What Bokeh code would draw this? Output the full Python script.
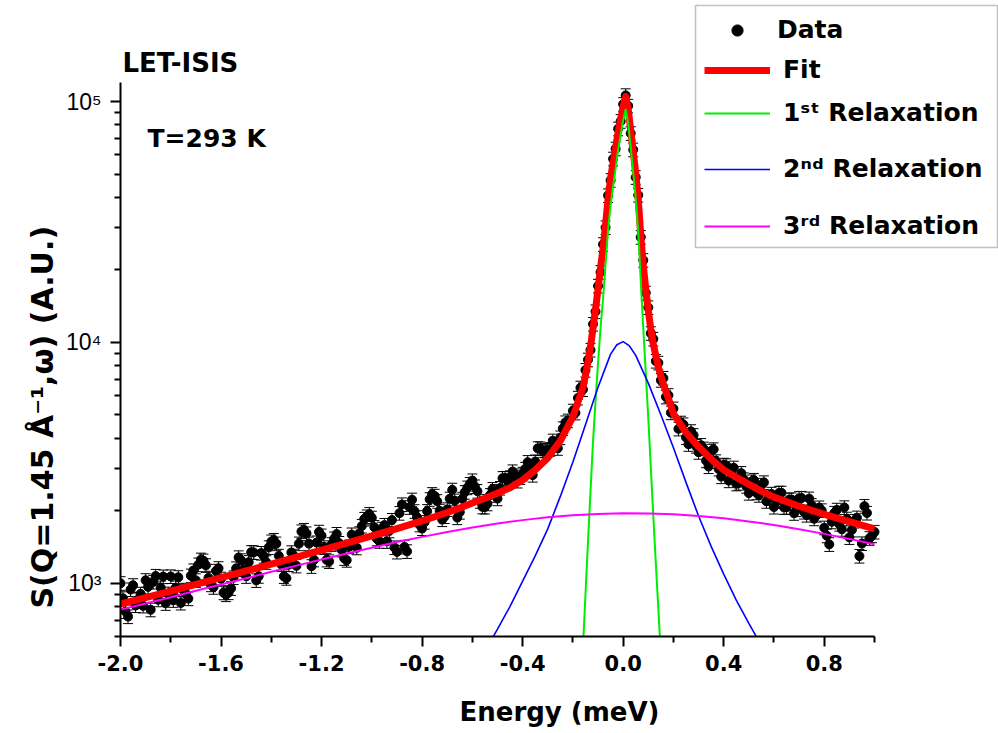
import numpy as np
from bokeh.plotting import figure
from bokeh.models import (ColumnDataSource, Whisker, TeeHead, FixedTicker, Label, Title,
                          Legend, LegendItem, BoxAnnotation, Range1d, CustomJSTickFormatter)
from bokeh.embed import file_html
from bokeh.resources import INLINE

# ---------------- data ----------------
DATA_X_LEFT = [-2.00, -1.98, -1.96, -1.94, -1.92, -1.90, -1.88, -1.86, -1.84, -1.82,
               -1.80, -1.78, -1.76, -1.74, -1.72, -1.70, -1.68, -1.66, -1.64, -1.62,
               -1.60, -1.58, -1.56, -1.54, -1.52, -1.50, -1.48, -1.46, -1.44, -1.42,
               -1.40, -1.38, -1.36, -1.34, -1.32, -1.30, -1.28, -1.26, -1.24, -1.22,
               -1.20, -1.18, -1.16, -1.14, -1.12, -1.10, -1.08, -1.06, -1.04, -1.02,
               -1.00, -0.98, -0.96, -0.94, -0.92, -0.90, -0.88, -0.86, -0.84, -0.82,
               -0.80, -0.78, -0.76, -0.74, -0.72, -0.70, -0.68, -0.66, -0.64, -0.62,
               -0.60, -0.58, -0.56, -0.54, -0.52, -0.50, -0.48, -0.46, -0.44, -0.42,
               -0.40, -0.38, -0.36, -0.34, -0.32, -0.30, -0.28, -0.26, -0.24, -0.22]
DATA_Y_LEFT = [998, 762, 940, 807, 902, 1027, 775, 1070, 957, 824,
               1065, 957, 827, 904, 1073, 1026, 1250, 1185, 985, 1123,
               1042, 896, 951, 1150, 1242, 1067, 1343, 1026, 1332, 1220,
               1487, 1458, 1195, 1048, 1341, 1179, 1637, 1606, 1174, 1473,
               1574, 1249, 1449, 1598, 1374, 1245, 1590, 1402, 1726, 1889,
               1867, 1528, 1680, 1491, 1827, 1347, 2120, 1354, 2219, 1876,
               1686, 1989, 2339, 2187, 1836, 2023, 2439, 1871, 2238, 2491,
               2666, 2409, 2074, 2136, 2455, 2242, 2726, 2661, 2907, 2656,
               2841, 3178, 2809, 3626, 3546, 3575, 3901, 3631, 4387, 4725]
DATA_X_LEFT2 = [-1.99, -1.97, -1.95, -1.93, -1.91, -1.89, -1.87, -1.85, -1.83, -1.81,
                -1.79, -1.77, -1.75, -1.73, -1.71, -1.69, -1.67, -1.65, -1.63, -1.61,
                -1.59, -1.57, -1.55, -1.53, -1.51, -1.49, -1.47, -1.45, -1.43, -1.41,
                -1.39, -1.37, -1.35, -1.33, -1.31, -1.29, -1.27, -1.25, -1.23, -1.21,
                -1.19, -1.17, -1.15, -1.13, -1.11, -1.09, -1.07, -1.05, -1.03, -1.01,
                -0.99, -0.97, -0.95, -0.93, -0.91, -0.89, -0.87, -0.85, -0.83, -0.81,
                -0.79, -0.77, -0.75, -0.73, -0.71, -0.69, -0.67, -0.65, -0.63, -0.61,
                -0.59, -0.57, -0.55, -0.53, -0.51, -0.49, -0.47, -0.45, -0.43, -0.41,
                -0.39, -0.37, -0.35, -0.33, -0.31, -0.29, -0.27, -0.25, -0.23]
DATA_Y_LEFT2 = [864, 726, 979, 854, 804, 964, 1011, 853, 1064, 903,
                848, 1057, 937, 862, 1128, 1193, 1239, 1051, 961, 1152,
                912, 913, 1055, 1278, 1138, 1221, 1341, 1068, 1294, 1407,
                1509, 1297, 1066, 1194, 1298, 1458, 1661, 1458, 1249, 1632,
                1407, 1230, 1530, 1466, 1267, 1417, 1512, 1608, 1846, 1933,
                1707, 1492, 1741, 1650, 1405, 1952, 1413, 2064, 1987, 1746,
                1791, 2228, 2302, 1995, 1891, 2240, 2199, 1971, 2385, 2579,
                2517, 2188, 2071, 2317, 2408, 2481, 2731, 2746, 2797, 2748,
                2980, 3013, 3196, 3620, 3562, 3599, 3774, 4020, 4644]
DATA_X_MID = [-0.20, -0.19, -0.18, -0.17, -0.16, -0.15, -0.14, -0.13, -0.12, -0.11,
              -0.10, -0.09, -0.08, -0.07, -0.06, -0.05, -0.04, -0.03, -0.02, -0.01,
              0.00, 0.01, 0.02, 0.03, 0.04, 0.05, 0.06, 0.07, 0.08, 0.09,
              0.10, 0.11, 0.12, 0.13, 0.14, 0.15, 0.16, 0.17, 0.18, 0.19,
              0.20]
DATA_Y_MID = [5194, 5093, 5876, 6474, 6370, 7665, 8462, 9294, 11906, 13419,
              17147, 19562, 25520, 29986, 40725, 47114, 57841, 63663, 77113, 82847,
              97429, 106050, 95943, 73785, 63084, 48457, 40894, 27331, 21924, 16045,
              13952, 10901, 10325, 8358, 8216, 6960, 7102, 5938, 6026, 5104,
              5303]
DATA_X_RIGHT = [0.22, 0.24, 0.26, 0.28, 0.30, 0.32, 0.34, 0.36, 0.38, 0.40,
                0.42, 0.44, 0.46, 0.48, 0.50, 0.52, 0.54, 0.56, 0.58, 0.60,
                0.62, 0.64, 0.66, 0.68, 0.70, 0.72, 0.74, 0.76, 0.78, 0.80,
                0.82, 0.84, 0.86, 0.88, 0.90, 0.92, 0.94, 0.96, 0.98, 1.00]
DATA_Y_RIGHT = [4371, 4555, 3772, 4113, 3496, 3615, 3049, 3590, 2978, 3098,
                2664, 3013, 2602, 2693, 2364, 2680, 2318, 2618, 2255, 2070,
                2369, 2063, 2220, 1950, 2252, 1973, 2242, 1851, 2058, 1698,
                1448, 1955, 1758, 2062, 1548, 1811, 1295, 2087, 1535, 1630]
DATA_X_RIGHT2 = [0.23, 0.25, 0.27, 0.29, 0.31, 0.33, 0.35, 0.37, 0.39, 0.41,
                 0.43, 0.45, 0.47, 0.49, 0.51, 0.53, 0.55, 0.57, 0.59, 0.61,
                 0.63, 0.65, 0.67, 0.69, 0.71, 0.73, 0.75, 0.77, 0.79, 0.81,
                 0.83, 0.85, 0.87, 0.89, 0.91, 0.93, 0.95, 0.97, 0.99]
DATA_Y_RIGHT2 = [4631, 4028, 4269, 3704, 3739, 3224, 3540, 3201, 2769, 3082,
                 2856, 2585, 2862, 2527, 2640, 2374, 2555, 2188, 2346, 2187,
                 2370, 2066, 2224, 2019, 2256, 1916, 2105, 1916, 2003, 1573,
                 1798, 2014, 1673, 1849, 1663, 1869, 1460, 1955, 1574]
REL_ERR = 0.065   # relative error-bar half height read from the caps

FIT_X = [-2.0, -1.9, -1.8, -1.7, -1.6, -1.5, -1.4, -1.3, -1.2, -1.1, -1.0, -0.9, -0.8,
         -0.75, -0.7, -0.65, -0.6, -0.55, -0.5, -0.45, -0.4, -0.35, -0.3, -0.25,
         -0.20, -0.19, -0.18, -0.17, -0.16, -0.15, -0.14, -0.13, -0.12, -0.11,
         -0.10, -0.09, -0.08, -0.07, -0.06, -0.05, -0.04, -0.03, -0.02, -0.01,
         0.00, 0.01, 0.02, 0.03, 0.04, 0.05, 0.06, 0.07, 0.08, 0.09,
         0.10, 0.11, 0.12, 0.13, 0.14, 0.15, 0.16, 0.17, 0.18, 0.19, 0.20,
         0.25, 0.3, 0.35, 0.4, 0.45, 0.5, 0.55, 0.6, 0.7, 0.8, 0.9, 1.0]
FIT_Y = [818, 870, 926, 987, 1053, 1123, 1199, 1281, 1369, 1465, 1569, 1684, 1813,
         1886, 1964, 2052, 2150, 2250, 2360, 2490, 2680, 2950, 3310, 3900,
         4900, 5250, 5650, 6050, 6500, 7300, 8300, 9580, 11450, 13690,
         16650, 20380, 24540, 30910, 39540, 48080, 55620, 64310, 74870, 84540,
         95520, 105000, 93150, 76070, 61850, 50480, 39320, 27890, 20880, 16540,
         13550, 11360, 9830, 8800, 7900, 7250, 6700, 6250, 5850, 5430, 5050,
         4220, 3680, 3275, 2950, 2750, 2570, 2410, 2275, 2085, 1930, 1800, 1680]

R1_X = [-0.16, -0.15, -0.14, -0.13, -0.12, -0.11, -0.10, -0.09, -0.08, -0.07, -0.06,
        -0.05, -0.04, -0.03, -0.02, -0.01, 0.00, 0.01, 0.02, 0.03, 0.04, 0.05,
        0.06, 0.07, 0.08, 0.09, 0.10, 0.11, 0.12, 0.13, 0.14, 0.15]
R1_Y = [542, 896, 1479, 2399, 3864, 5690, 8200, 11500, 15200, 21100, 29200,
        37200, 44400, 52800, 63100, 72600, 83500, 93000, 81300, 64600, 50700, 39700,
        29000, 18000, 11400, 7450, 4830, 3040, 1890, 1205, 780, 504]

R2_X = [-0.55, -0.5, -0.45, -0.4, -0.35, -0.3, -0.25, -0.2, -0.15, -0.1, -0.05, -0.025,
        0.0, 0.025, 0.05, 0.1, 0.15, 0.2, 0.25, 0.3, 0.35, 0.4, 0.45, 0.5, 0.55]
R2_Y = [521, 644, 801, 1019, 1297, 1679, 2291, 3184, 4550, 6510, 8930, 9770,
        10070, 9660, 8830, 6770, 5000, 3650, 2620, 1900, 1420, 1090, 850, 680, 550]

R3_X = [-2.0, -1.9, -1.8, -1.7, -1.6, -1.5, -1.4, -1.3, -1.2, -1.1, -1.0, -0.9, -0.8,
        -0.7, -0.6, -0.5, -0.4, -0.3, -0.2, -0.1, 0.0, 0.1, 0.2, 0.3, 0.4, 0.5,
        0.6, 0.7, 0.8, 0.9, 1.0]
R3_Y = [776, 823, 874, 929, 987, 1048, 1114, 1182, 1253, 1327, 1403, 1480, 1556,
        1631, 1702, 1768, 1826, 1875, 1913, 1938, 1949, 1946, 1930, 1899, 1857, 1804,
        1742, 1674, 1601, 1526, 1449]

X_BOUNDS = (-2.0, 1.0)
Y_BOUNDS = (600, 1.2e5)
X_TICKS = [-2.0, -1.6, -1.2, -0.8, -0.4, 0.0, 0.4, 0.8]
X_MINOR = [-1.8, -1.4, -1.0, -0.6, -0.2, 0.2, 0.6, 1.0]
Y_TICKS = [1e3, 1e4, 1e5]
Y_MINOR = [600, 700, 800, 900, 2000, 3000, 4000, 5000, 6000, 7000, 8000, 9000,
           20000, 30000, 40000, 50000, 60000, 70000, 80000, 90000]

LEGEND_LABELS = ["Data", "Fit", "1\u02e2\u1d57 Relaxation", "2\u207f\u1d48 Relaxation",
                 "3\u02b3\u1d48 Relaxation"]
X_TITLE = "Energy (meV)"
Y_TITLE = "S(Q=1.45 \u00c5\u207b\u00b9,\u03c9) (A.U.)"
FACILITY = "LET-ISIS"
TEMPERATURE = "T=293 K"

BOLD_FONT = "DejaVu Sans, Liberation Sans, sans-serif"
TICK_FONT = "Liberation Sans, DejaVu Sans, sans-serif"

# ---------------- figure ----------------
# The frame reaches the top and right canvas edges so that the legend and the
# in-plot texts are not clipped; the axes are limited with `bounds`.
W, H = 998, 733
LEFT, BOTTOM = 120, 97
x_px_per_unit = (874 - 120) / (X_BOUNDS[1] - X_BOUNDS[0])
x_end = X_BOUNDS[0] + (W - LEFT) / x_px_per_unit
y_px_per_dec = (636 - 82) / (np.log10(Y_BOUNDS[1]) - np.log10(Y_BOUNDS[0]))
y_end = 10 ** (np.log10(Y_BOUNDS[0]) + (H - BOTTOM) / y_px_per_dec)

p = figure(width=W, height=H, x_range=Range1d(X_BOUNDS[0], x_end),
           y_range=Range1d(Y_BOUNDS[0], y_end),
           y_axis_type="log", output_backend="svg", toolbar_location=None,
           min_border_left=LEFT, min_border_right=0, min_border_top=0,
           min_border_bottom=BOTTOM)
p.outline_line_color = None
p.grid.visible = False
p.background_fill_color = "white"
p.border_fill_color = "white"

for ax in (p.xaxis[0], p.yaxis[0]):
    ax.axis_line_width = 2
    ax.axis_line_color = "black"
    ax.major_tick_line_width = 2
    ax.minor_tick_line_width = 2
    ax.major_tick_line_color = "black"
    ax.minor_tick_line_color = "black"
    ax.major_tick_out = 10
    ax.major_tick_in = 0
    ax.minor_tick_out = 6
    ax.minor_tick_in = 0
    ax.major_label_text_color = "black"
    ax.axis_label_text_font = BOLD_FONT
    ax.axis_label_text_font_style = "bold"
    ax.axis_label_text_color = "black"

p.xaxis.bounds = X_BOUNDS
p.xaxis.ticker = FixedTicker(ticks=X_TICKS, minor_ticks=X_MINOR)
p.xaxis.formatter = CustomJSTickFormatter(code="return tick.toFixed(1);")
p.xaxis.major_label_text_font = BOLD_FONT
p.xaxis.major_label_text_font_size = "21px"
p.xaxis.major_label_text_font_style = "bold"
p.xaxis.major_label_standoff = 8
p.xaxis.axis_label = X_TITLE
p.xaxis.axis_label_text_font_size = "26px"
p.xaxis.axis_label_standoff = 23

p.yaxis.bounds = Y_BOUNDS
p.yaxis.ticker = FixedTicker(ticks=Y_TICKS, minor_ticks=Y_MINOR)
p.yaxis.formatter = CustomJSTickFormatter(code="""
const sup = {3: "\u00b3", 4: "\u2074", 5: "\u2075"};
const e = Math.round(Math.log10(tick));
return "10" + (sup[e] || String(e));
""")
p.yaxis.major_label_text_font = TICK_FONT
p.yaxis.major_label_text_font_size = "23px"
p.yaxis.major_label_text_font_style = "normal"
p.yaxis.major_label_standoff = 9

# y title as a side-panel Title so that it starts at the same height as the reference
p.add_layout(Title(text=Y_TITLE, align="left", offset=28, standoff=7,
                   text_font=BOLD_FONT, text_font_size="30px", text_font_style="bold",
                   text_color="black"), "left")

# ---------------- data ----------------
dx = DATA_X_LEFT + DATA_X_LEFT2 + DATA_X_MID + DATA_X_RIGHT + DATA_X_RIGHT2
dy = DATA_Y_LEFT + DATA_Y_LEFT2 + DATA_Y_MID + DATA_Y_RIGHT + DATA_Y_RIGHT2
dy_arr = np.array(dy, dtype=float)
src = ColumnDataSource(dict(x=dx, y=dy, lo=dy_arr * (1 - REL_ERR), hi=dy_arr * (1 + REL_ERR)))

whisk = Whisker(source=src, base="x", upper="hi", lower="lo", dimension="height",
                line_color="black", line_width=1,
                upper_head=TeeHead(size=10, line_color="black", line_width=1),
                lower_head=TeeHead(size=10, line_color="black", line_width=1))
p.add_layout(whisk)

r_data = p.scatter("x", "y", source=src, marker="circle", size=9,
                   fill_color="black", line_color="black")
r_fit = p.line(FIT_X, FIT_Y, line_color="#ff0000", line_width=7, line_join="round")
r_1 = p.line(R1_X, R1_Y, line_color="#00ee00", line_width=2)
r_2 = p.line(R2_X, R2_Y, line_color="#0000ff", line_width=1.6)
r_3 = p.line(R3_X, R3_Y, line_color="#ff00ff", line_width=2)

# ---------------- legend (one entry per Legend for exact row placement) ----------------
legend_rows = [(LEGEND_LABELS[0], r_data, 592, 7),
               (LEGEND_LABELS[1], r_fit, 552, 13),
               (LEGEND_LABELS[2], r_1, 509, 13),
               (LEGEND_LABELS[3], r_2, 453, 13),
               (LEGEND_LABELS[4], r_3, 396, 13)]
for lab_text, rend, vy, stand in legend_rows:
    lg = Legend(items=[LegendItem(label=lab_text, renderers=[rend])], location=(584, vy),
                border_line_color=None, background_fill_alpha=0, padding=0, margin=0,
                spacing=0, glyph_width=66, glyph_height=28, label_height=28,
                label_standoff=stand, label_text_font=BOLD_FONT, label_text_font_size="25px",
                label_text_font_style="bold", label_text_color="black",
                label_text_baseline="middle")
    p.add_layout(lg)

box = BoxAnnotation(left=695, right=997, top=5, bottom=247,
                    left_units="canvas", right_units="canvas",
                    top_units="canvas", bottom_units="canvas",
                    fill_alpha=0, line_color="#333333", line_width=1.5)
p.add_layout(box)

# ---------------- in-plot texts ----------------
def lab(text, x, y, size):
    p.add_layout(Label(x=x, y=y, x_units="screen", y_units="screen", text=text,
                       text_font=BOLD_FONT, text_font_size=size, text_font_style="bold",
                       text_color="black", text_align="left", text_baseline="alphabetic"))

lab(FACILITY, 2, 574, "26px")
lab(TEMPERATURE, 27, 498, "25px")

open("out.html", "w").write(file_html(p, INLINE))
